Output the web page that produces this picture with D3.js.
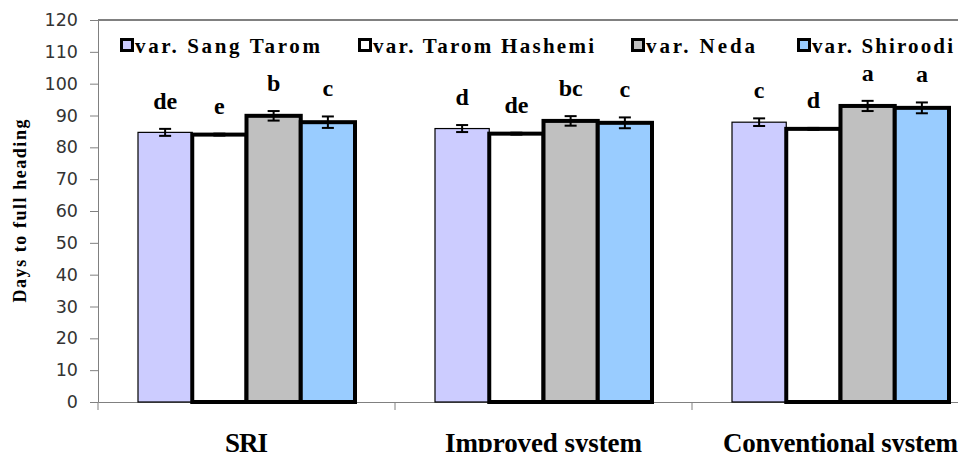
<!DOCTYPE html>
<style>
body { margin: 0; background: #fff; }
.axis .domain, .axis line { stroke: #808080; }
.axis text { font-family: "DejaVu Sans", sans-serif; font-size: 17.5px; fill: #333; }
</style>
<svg width="958" height="452" class="chart"></svg>
<script src="https://d3js.org/d3.v7.min.js"></script>
<script>

var systems = ["SRI", "Improved system", "Conventional system"];
var varieties = ["var. Sang Tarom", "var. Tarom Hashemi", "var. Neda", "var. Shiroodi"];
var colors = ["#ccccff", "#ffffff", "#c0c0c0", "#99ccff"];

// days to full heading, one array per variety (SRI, Improved, Conventional)
var sangTarom = [84.7, 85.9, 87.9];
var taromHashemi = [84.0, 84.3, 85.8];
var neda = [89.9, 88.3, 93.0];
var shiroodi = [87.9, 87.7, 92.4];

var errSangTarom = [1.1, 1.1, 1.2];
var errTaromHashemi = [0.3, 0.3, 0.3];
var errNeda = [1.5, 1.5, 1.6];
var errShiroodi = [1.8, 1.7, 1.7];

var lettersSangTarom = ["de", "d", "c"];
var lettersTaromHashemi = ["e", "de", "d"];
var lettersNeda = ["b", "bc", "a"];
var lettersShiroodi = ["c", "c", "a"];

var yTicks = [0, 10, 20, 30, 40, 50, 60, 70, 80, 90, 100, 110, 120];

var values = [sangTarom, taromHashemi, neda, shiroodi];
var errs = [errSangTarom, errTaromHashemi, errNeda, errShiroodi];
var letters = [lettersSangTarom, lettersTaromHashemi, lettersNeda, lettersShiroodi];

var svg = d3.select(".chart");
var mLeft = 98, mRight = 989, mTop = 20, mBottom = 402;

var x0 = d3.scaleBand().domain(systems).range([mLeft, mRight]).paddingInner(0).paddingOuter(0);
var x1 = d3.scaleBand().domain(d3.range(4)).range([40, x0.bandwidth() - 40]).padding(0);
var y = d3.scaleLinear().domain([0, 120]).range([mBottom, mTop]);

// top frame line
svg.append("line")
    .attr("x1", mLeft).attr("x2", 958)
    .attr("y1", mTop).attr("y2", mTop)
    .attr("stroke", "#808080").attr("stroke-width", 2);

svg.append("g")
    .attr("class", "axis")
    .attr("transform", "translate(" + mLeft + ",0)")
    .call(d3.axisLeft(y).tickValues(yTicks).tickSize(8).tickSizeOuter(0).tickPadding(12));

svg.append("g")
    .attr("class", "axis")
    .attr("transform", "translate(0," + mBottom + ")")
    .call(d3.axisBottom(x0).tickSize(0).tickSizeOuter(0).tickFormat(""))
  .call(function(g) {
    g.selectAll(".sep").data(systems.concat(["end"])).enter().append("line")
      .attr("x1", function(d, i) { return mLeft + i * x0.bandwidth(); })
      .attr("x2", function(d, i) { return mLeft + i * x0.bandwidth(); })
      .attr("y1", 0).attr("y2", 8)
      .attr("stroke", "#808080");
  });

var rows = [];
systems.forEach(function(s, si) {
  varieties.forEach(function(v, vi) {
    rows.push({s: s, vi: vi, value: values[vi][si], err: errs[vi][si], letter: letters[vi][si]});
  });
});
rows.sort(function(a, b) { return a.vi - b.vi; });

var bars = svg.append("g");
bars.selectAll("rect")
  .data(rows)
  .enter().append("rect")
    .attr("x", function(d) { return x0(d.s) + x1(d.vi); })
    .attr("y", function(d) { return y(d.value); })
    .attr("width", x1.bandwidth())
    .attr("height", function(d) { return y(0) - y(d.value); })
    .attr("fill", function(d) { return colors[d.vi]; })
    .attr("stroke", "#000")
    .attr("stroke-width", function(d) { return d.vi === 0 ? 1.2 : 4; });

var eb = svg.append("g").attr("stroke", "#000").attr("stroke-width", 2);
rows.forEach(function(d) {
  var cx = x0(d.s) + x1(d.vi) + x1.bandwidth() / 2;
  eb.append("line").attr("x1", cx).attr("x2", cx).attr("y1", y(d.value + d.err)).attr("y2", y(d.value - d.err));
  eb.append("line").attr("x1", cx - 6).attr("x2", cx + 6).attr("y1", y(d.value + d.err)).attr("y2", y(d.value + d.err));
  eb.append("line").attr("x1", cx - 6).attr("x2", cx + 6).attr("y1", y(d.value - d.err)).attr("y2", y(d.value - d.err));
});

svg.append("g")
    .attr("font-family", "'Liberation Serif', serif")
    .attr("font-weight", "bold")
    .attr("font-size", 24)
    .attr("text-anchor", "middle")
  .selectAll("text")
  .data(rows)
  .enter().append("text")
    .attr("x", function(d) { return x0(d.s) + x1(d.vi) + x1.bandwidth() / 2; })
    .attr("y", function(d) { return y(d.value + d.err) - 20; })
    .text(function(d) { return d.letter; });

// category labels
var catWidths = [43, 197, 235];
svg.append("g")
    .attr("font-family", "'Liberation Serif', serif")
    .attr("font-weight", "bold")
    .attr("font-size", 27)
    .attr("text-anchor", "middle")
  .selectAll("text")
  .data(systems)
  .enter().append("text")
    .attr("x", function(d) { return x0(d) + x0.bandwidth() / 2; })
    .attr("y", 452)
    .attr("textLength", function(d, i) { return catWidths[i]; })
    .attr("lengthAdjust", "spacing")
    .text(function(d) { return d; });

// y label
svg.append("text")
    .attr("transform", "translate(26,211) rotate(-90)")
    .attr("font-family", "'Liberation Serif', serif")
    .attr("font-weight", "bold")
    .attr("font-size", 18)
    .attr("text-anchor", "middle")
    .attr("textLength", 183)
    .attr("lengthAdjust", "spacing")
    .text("Days to full heading");

// legend
var legendX = [120, 358, 631, 797];
var legendW = [185, 221, 109, 141];
var legend = svg.append("g")
  .selectAll("g")
  .data(varieties)
  .enter().append("g")
    .attr("transform", function(d, i) { return "translate(" + legendX[i] + ",38)"; });

legend.append("rect")
    .attr("x", 1.5).attr("y", 1.5)
    .attr("width", 11).attr("height", 11)
    .attr("fill", function(d, i) { return colors[i]; })
    .attr("stroke", "#000").attr("stroke-width", 3);

legend.append("text")
    .attr("x", 15)
    .attr("y", 15)
    .attr("font-family", "'Liberation Serif', serif")
    .attr("font-weight", "bold")
    .attr("font-size", 21)
    .attr("textLength", function(d, i) { return legendW[i]; })
    .attr("lengthAdjust", "spacing")
    .text(function(d) { return d; });

</script>
